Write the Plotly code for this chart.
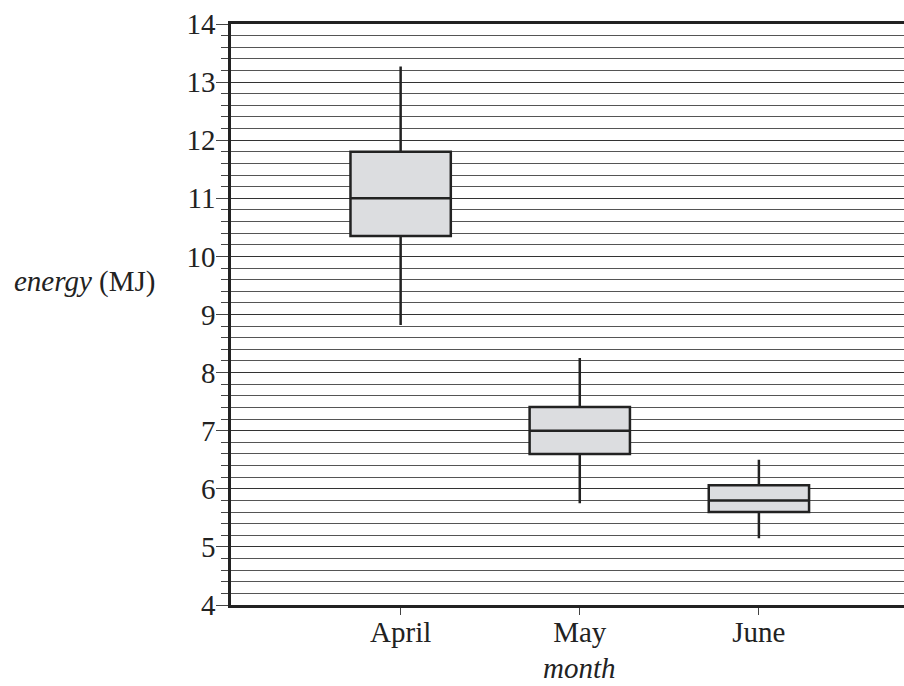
import plotly.graph_objects as go

months = ["April", "May", "June"]
lower_whisker = [8.82, 5.75, 5.15]
q1_vals = [10.35, 6.60, 5.60]
median_vals = [11.0, 7.0, 5.80]
q3_vals = [11.80, 7.41, 6.06]
upper_whisker = [13.27, 8.25, 6.50]

y_tick_vals = [4, 5, 6, 7, 8, 9, 10, 11, 12, 13, 14]
y_tick_text = [str(v) for v in y_tick_vals]

FONT = "Liberation Serif, Times New Roman, serif"
FS = 29

fig = go.Figure()
fig.add_trace(go.Box(
    x=months,
    q1=q1_vals,
    median=median_vals,
    q3=q3_vals,
    lowerfence=lower_whisker,
    upperfence=upper_whisker,
    width=0.56,
    whiskerwidth=0,
    fillcolor="#dcdde0",
    line=dict(color="#222222", width=2.5),
    boxpoints=False,
    showlegend=False,
    hoverinfo="skip",
))

fig.update_layout(
    width=904, height=686,
    margin=dict(l=231, r=0, t=24, b=81, autoexpand=False),
    paper_bgcolor="white",
    plot_bgcolor="white",
    font=dict(family=FONT, size=FS, color="#222222"),
    xaxis=dict(
        type="category",
        range=[-0.947, 2.81],
        automargin=False,
        showgrid=False,
        zeroline=False,
        showline=True, linecolor="#222222", linewidth=2.5, mirror=True,
        ticks="outside", ticklen=7, tickwidth=1.2, tickcolor="#444444",
        ticklabelstandoff=-8,
        tickfont=dict(family=FONT, size=FS, color="#222222"),
    ),
    yaxis=dict(
        range=[4, 14],
        automargin=False,
        tickmode="array", tickvals=y_tick_vals, ticktext=y_tick_text,
        showgrid=True, gridcolor="#333333", gridwidth=1,
        zeroline=False,
        showline=True, linecolor="#222222", linewidth=2.5,
        ticks="outside", ticklen=12, tickwidth=1.2, tickcolor="#444444",
        ticklabelstandoff=-5,
        tickfont=dict(family=FONT, size=FS, color="#222222"),
        minor=dict(dtick=0.2, showgrid=True, gridcolor="#555555", gridwidth=1,
                   ticks="outside", ticklen=7, tickwidth=1.2, tickcolor="#444444"),
    ),
    annotations=[
        dict(text="<i>energy</i> (MJ)", xref="paper", yref="y",
             x=-0.110, y=9.57, xanchor="right", yanchor="middle",
             showarrow=False, font=dict(family=FONT, size=FS, color="#222222")),
        dict(text="<i>month</i>", xref="x", yref="paper",
             x="May", y=-0.077, xanchor="center", yanchor="top",
             showarrow=False, font=dict(family=FONT, size=FS, color="#222222")),
    ],
)

fig.write_html("out.html", config={"displayModeBar": False},
               post_script="document.body.style.margin='0';document.body.style.overflow='hidden';")
